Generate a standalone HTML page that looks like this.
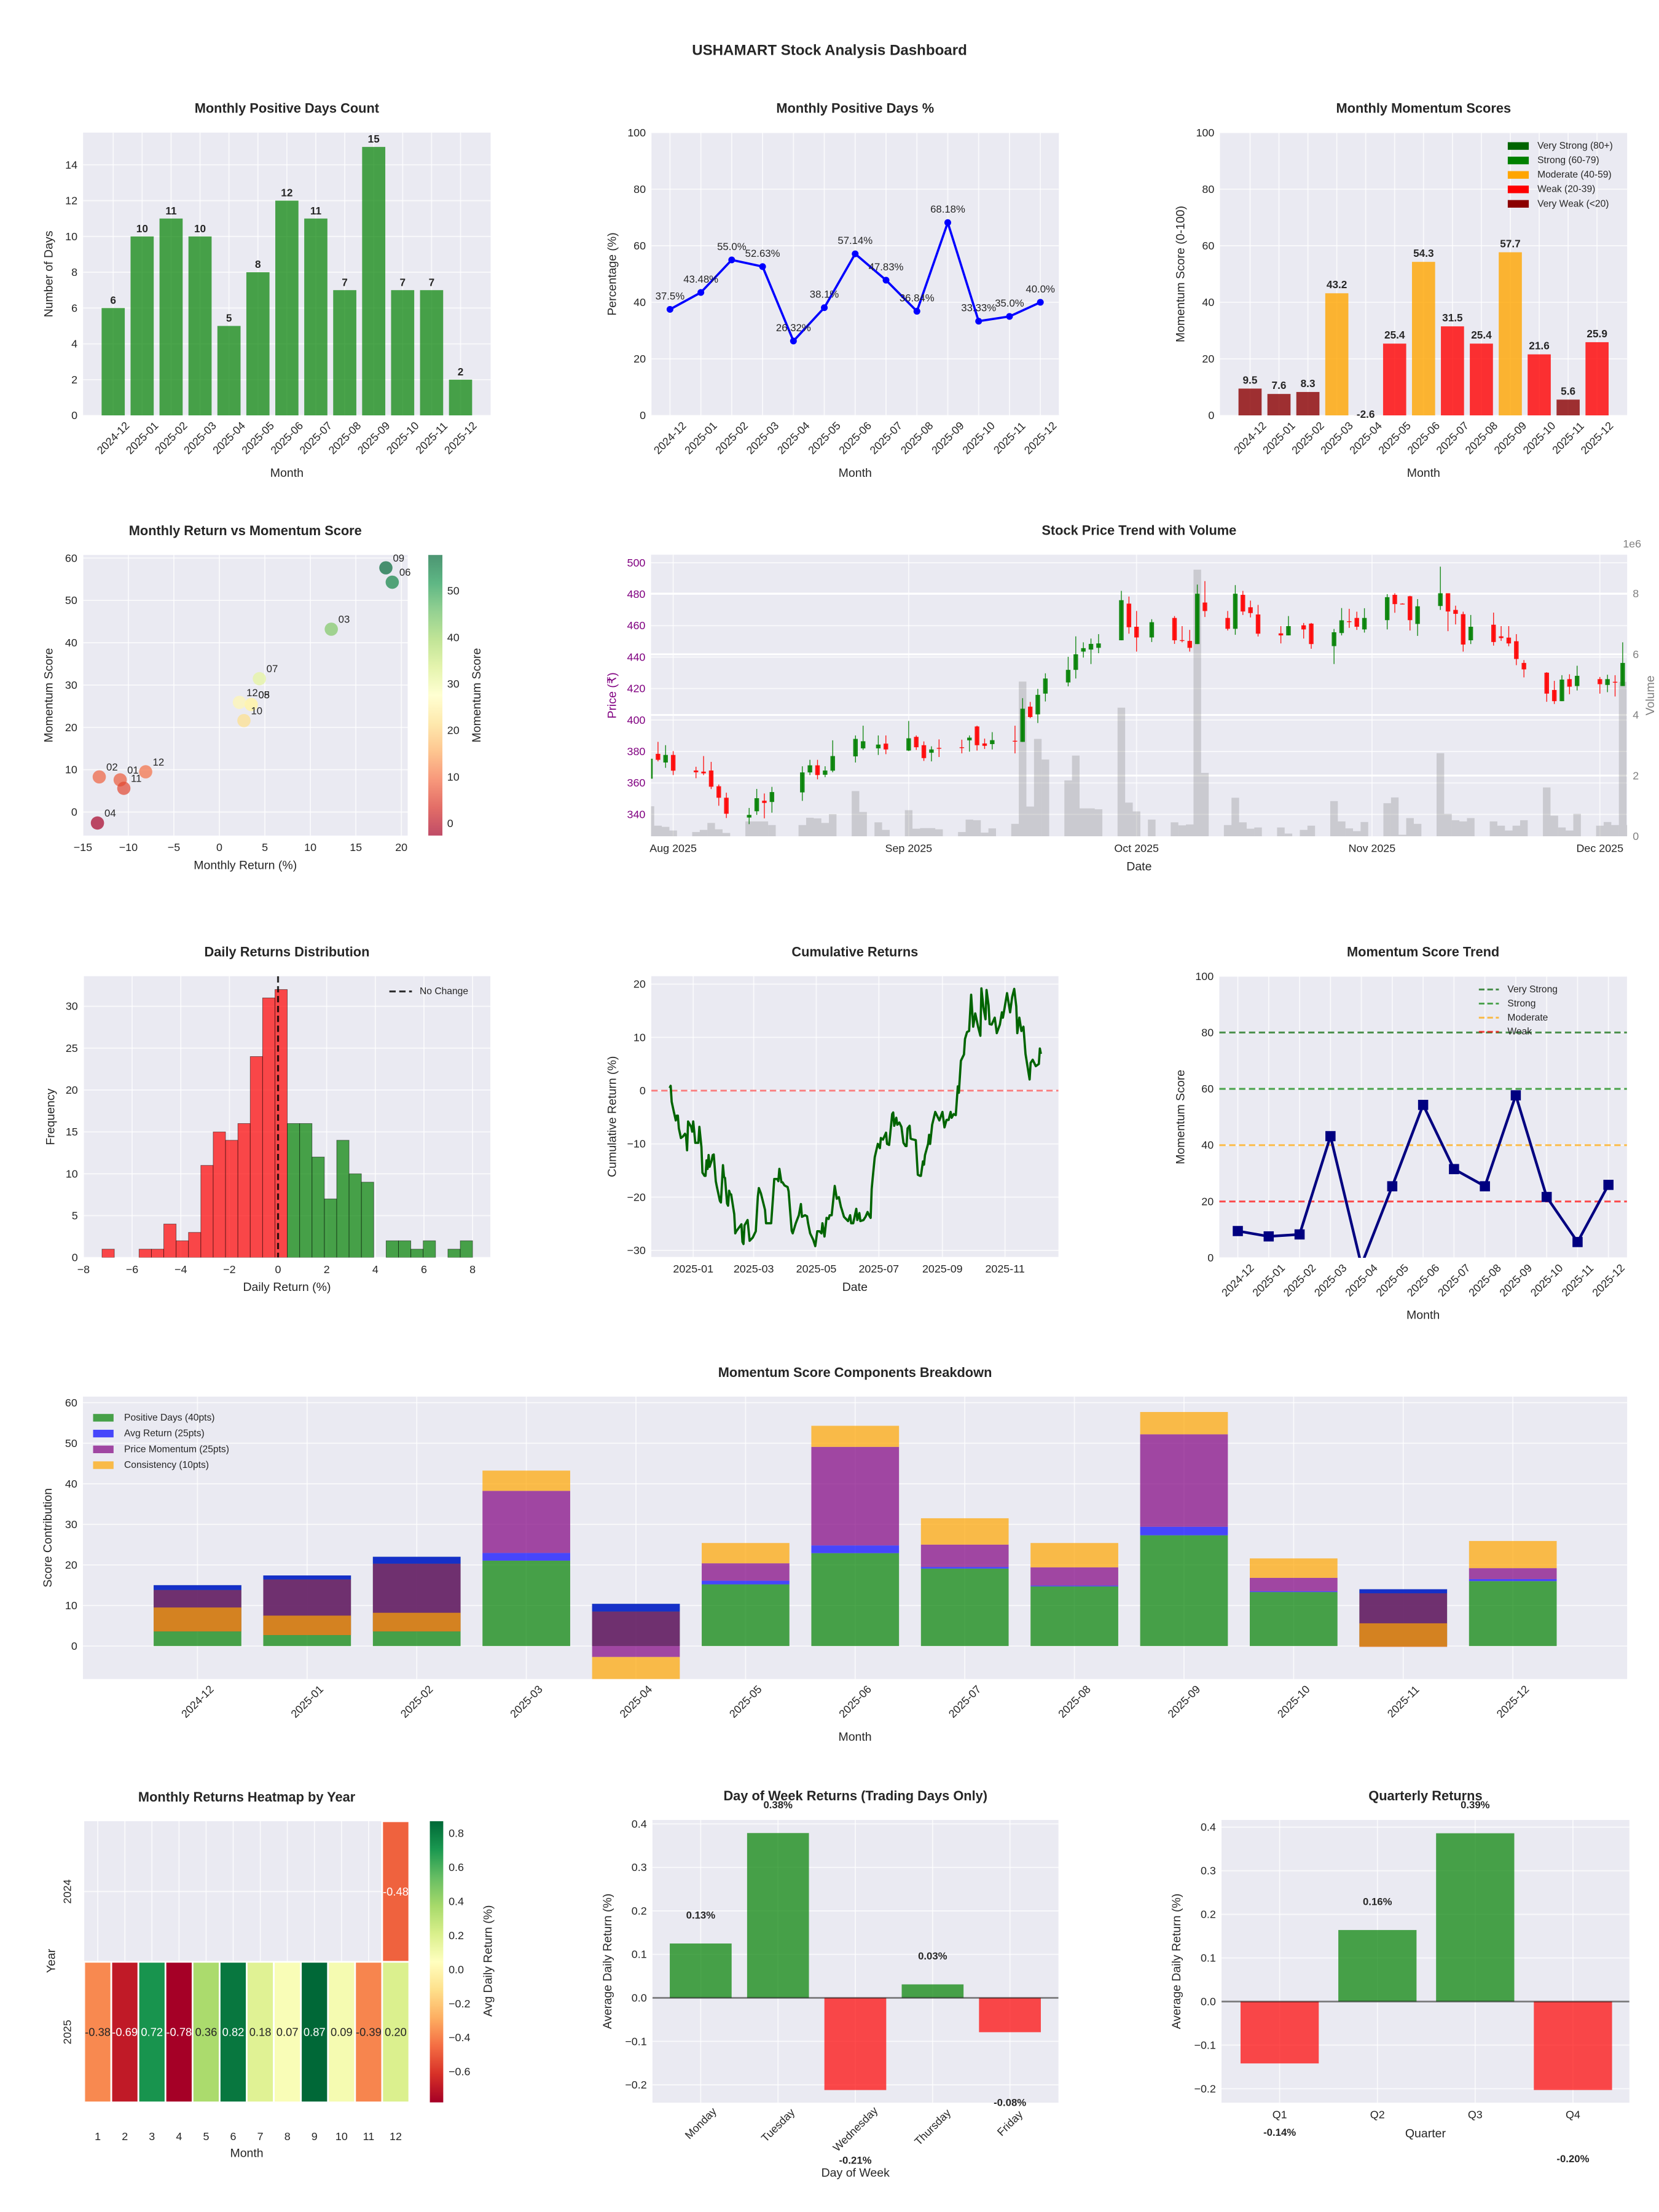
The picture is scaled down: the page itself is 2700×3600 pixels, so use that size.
<!DOCTYPE html>
<html><head><meta charset="utf-8"><title>USHAMART Stock Analysis Dashboard</title>
<style>
html,body{margin:0;padding:0;background:#fff;}
svg{display:block;}
svg text{font-family:"Liberation Sans","DejaVu Sans",sans-serif;}
</style></head>
<body>
<svg id="chart" xmlns="http://www.w3.org/2000/svg" width="2700" height="3600" viewBox="0 0 1176 1568">
<rect x="0" y="0" width="1176" height="1568" fill="#ffffff"/>
<text x="588" y="39" text-anchor="middle" font-size="10.5" font-weight="bold" fill="#262626">USHAMART Stock Analysis Dashboard</text>
</svg>
<script>
// ---------------- DATA ----------------
const months = ['2024-12','2025-01','2025-02','2025-03','2025-04','2025-05','2025-06','2025-07','2025-08','2025-09','2025-10','2025-11','2025-12'];
const positiveDays = [6,10,11,10,5,8,12,11,7,15,7,7,2];
const positivePct = [37.5,43.48,55.0,52.63,26.32,38.1,57.14,47.83,36.84,68.18,33.33,35.0,40.0];
const positivePctLabels = ['37.5%','43.48%','55.0%','52.63%','26.32%','38.1%','57.14%','47.83%','36.84%','68.18%','33.33%','35.0%','40.0%'];
const momentumScores = [9.5,7.6,8.3,43.2,-2.6,25.4,54.3,31.5,25.4,57.7,21.6,5.6,25.9];
const momentumLabels = ['9.5','7.6','8.3','43.2','-2.6','25.4','54.3','31.5','25.4','57.7','21.6','5.6','25.9'];
// scatter
const scatterReturns = [-8.1,-10.9,-13.2,12.3,-13.4,3.5,19.0,4.4,3.5,18.3,2.7,-10.5,2.2];
const scatterScores = [9.5,7.6,8.3,43.2,-2.6,25.4,54.3,31.5,25.4,57.7,21.6,5.6,25.9];
const scatterLabels = ['12','01','02','03','04','05','06','07','08','09','10','11','12'];
// candlestick (days since 2025-08-01)
const candleDay = [-3,-2,-1,0,3,4,5,6,7,10,11,12,13,17,18,19,20,21,24,25,27,28,31,32,33,34,35,38,39,40,41,42,45,46,47,48,49,52,53,54,55,56,59,60,61,63,66,67,68,69,70,73,74,75,76,77,80,81,83,84,87,88,89,90,91,94,95,96,97,98,101,102,103,104,105,108,109,110,111,112,115,116,117,118,119,122,123,124,125,126];
const candleOpen = [362.7,378.5,373.0,377.8,367.9,367.2,367.9,357.9,350.6,338.0,342.0,348.7,347.9,354.0,366.7,371.2,365.2,367.8,376.9,382.0,382.0,385.0,380.6,389.3,384.0,379.2,382.3,382.7,387.1,395.9,385.1,384.7,386.8,386.1,408.5,403.6,416.8,423.9,431.9,443.5,444.8,445.9,450.7,474.0,459.3,452.5,464.9,450.8,450.3,448.3,474.7,464.9,458.0,479.6,471.7,467.1,455.1,453.8,460.2,461.3,447.0,455.3,462.8,464.9,457.6,463.5,479.6,474.0,478.7,461.1,472.5,480.6,470.0,467.3,450.7,460.6,453.2,452.4,450.1,436.3,430.1,419.1,412.0,426.0,421.6,426.0,422.3,424.3,421.6,434.0];
const candleClose = [375.4,374.7,377.8,367.8,366.8,366.1,357.6,350.6,340.4,339.7,350.3,347.3,354.2,366.7,371.2,365.0,367.9,377.1,388.0,386.5,384.4,381.3,388.4,382.7,375.8,381.3,382.2,382.6,388.8,384.0,383.6,387.2,386.7,407.2,401.9,416.0,426.4,431.9,441.8,445.7,448.4,448.7,476.2,459.0,452.5,462.2,450.7,450.7,445.9,480.3,469.3,458.0,480.3,469.0,468.0,454.9,453.8,459.7,457.6,448.3,455.8,463.4,462.7,459.3,464.9,478.1,473.7,473.9,463.5,472.3,480.6,469.0,467.5,448.0,459.3,449.6,452.1,448.7,438.8,432.2,416.8,412.0,425.7,421.2,428.1,422.8,426.0,424.2,436.3,431.8];
const candleHigh = [376.0,386.1,384.0,380.2,370.3,377.1,373.4,359.0,353.8,344.1,356.2,353.3,357.5,370.6,374.7,374.7,370.6,387.1,390.2,396.4,390.2,390.2,399.4,390.2,386.4,383.3,387.7,387.5,390.2,396.4,388.2,392.3,396.4,413.9,411.5,419.8,429.7,440.2,453.2,449.4,451.8,454.6,482.1,478.5,469.3,464.1,466.1,459.7,457.3,486.1,488.3,469.3,485.8,482.1,475.9,473.2,459.7,466.1,461.7,461.7,457.9,471.2,470.7,468.9,471.1,480.0,480.6,474.2,479.0,476.9,497.5,480.6,472.7,468.9,466.8,468.3,459.7,459.7,454.6,438.1,430.4,424.9,428.5,429.1,434.5,427.4,428.8,428.5,449.4,439.5];
const candleLow = [362.0,373.7,369.6,365.0,363.0,365.0,356.1,345.5,337.7,333.8,339.7,337.5,341.1,348.6,365.0,362.3,363.7,366.8,373.0,381.0,377.8,378.3,380.3,381.0,374.0,373.7,376.5,378.8,379.9,380.6,381.6,381.3,378.8,386.1,401.2,398.1,411.8,421.4,426.4,439.7,435.6,442.5,450.7,454.9,443.5,449.6,448.4,449.4,443.5,448.3,465.5,456.9,454.2,466.8,465.2,453.1,448.7,453.8,451.8,445.3,435.6,453.8,458.6,457.3,455.6,457.6,468.2,473.6,456.9,453.5,470.0,456.5,460.8,443.5,448.3,447.3,450.3,446.9,434.9,427.1,411.6,410.2,412.0,416.4,418.8,416.8,417.7,415.0,421.6,429.8];
const candleVolumeM = [0.99,0.35,0.31,0.19,0.14,0.21,0.44,0.23,0.11,0.49,0.49,0.49,0.37,0.37,0.61,0.59,0.44,0.73,1.49,0.80,0.46,0.21,0.86,0.25,0.27,0.27,0.23,0.14,0.55,0.53,0.12,0.26,0.41,5.10,0.98,3.21,2.53,1.84,2.66,0.92,0.92,0.89,4.24,1.11,0.82,0.55,0.46,0.36,0.39,8.79,2.09,0.37,1.27,0.46,0.25,0.29,0.29,0.09,0.21,0.35,1.16,0.49,0.26,0.17,0.47,1.09,1.28,0.05,0.60,0.41,2.74,0.74,0.53,0.49,0.60,0.49,0.35,0.19,0.35,0.53,1.61,0.68,0.29,0.19,0.74,0.35,0.47,0.37,5.09,0.37];
const priceTicks = [340,360,380,400,420,440,460,480,500];
const volumeTicks = [0,2,4,6,8];
const dateTickLabels = ['Aug 2025','Sep 2025','Oct 2025','Nov 2025','Dec 2025'];
const dateTickDays = [0,31,61,92,122];
// histogram
const histCounts = [1,0,0,1,1,4,2,3,11,15,14,16,24,31,32,16,16,12,7,14,10,9,0,2,2,1,2,0,1,2];
const histBinStart = -7.24;
const histBinWidth = 0.508;
// cumulative returns (days since 2025-01-01, %)
const cumDays = [-23,-22,-21,-19,-17,-16,-15,-14,-12,-10,-8,-7,-6,-5,-2,-1,0,1,2,5,6,8,9,11,12,13,14,15,16,18,19,20,22,23,26,27,29,30,31,33,34,35,36,37,40,41,42,47,48,49,50,53,55,58,61,63,64,66,70,71,76,78,79,82,83,84,86,87,89,92,93,96,97,100,103,105,106,109,111,112,114,117,119,121,123,125,126,128,130,132,133,135,138,140,142,144,145,147,151,153,154,156,159,160,162,163,166,168,170,172,173,174,175,177,180,182,183,185,188,189,191,192,194,195,196,198,199,201,203,205,207,208,209,211,212,213,217,219,221,222,224,225,226,229,230,231,233,236,240,243,245,247,249,251,252,254,256,258,259,261,264,265,267,269,271,273,275,278,280,281,283,285,286,288,289,291,294,296,299,301,302,306,309,311,313,315,316,318,320,322,324,328,329,331,334,337,338,339];
const cumReturns = [0.5,0.9,-2.1,-3.9,-5.6,-4.7,-4.7,-7.1,-8.9,-8.6,-8.1,-8.6,-11.2,-5.8,-6.8,-7.7,-5.8,-7.7,-9.8,-9.8,-6.8,-10.6,-15.4,-16.0,-16.0,-13.1,-14.7,-12.1,-14.3,-13.1,-12.1,-12.0,-17.0,-18.0,-20.7,-21.0,-14.0,-16.2,-16.4,-21.2,-21.6,-18.8,-19.4,-19.5,-23.2,-26.8,-26.4,-25.1,-28.4,-28.8,-25.3,-24.3,-28.2,-27.6,-26.4,-19.9,-18.3,-19.3,-22.4,-24.9,-24.9,-19.5,-16.6,-16.6,-17.0,-14.7,-17.2,-17.2,-17.8,-18.1,-18.9,-26.3,-26.8,-24.9,-23.4,-21.3,-23.7,-23.4,-23.6,-24.9,-26.8,-28.0,-29.2,-26.4,-26.4,-26.8,-24.9,-27.4,-23.9,-24.1,-23.4,-23.4,-17.9,-20.3,-20.0,-21.8,-22.4,-23.7,-24.5,-23.4,-24.9,-24.9,-22.2,-24.3,-23.0,-24.5,-24.3,-23.7,-22.8,-23.6,-23.9,-18.5,-16.4,-12.5,-10.0,-10.8,-8.9,-9.2,-7.9,-10.0,-10.2,-8.3,-4.4,-4.1,-6.6,-5.1,-6.4,-6.0,-6.8,-9.8,-10.4,-10.4,-7.1,-6.6,-9.0,-9.1,-9.3,-15.8,-16.0,-16.0,-13.3,-13.9,-12.1,-10.0,-8.3,-10.0,-6.4,-4.0,-5.6,-4.0,-6.9,-5.5,-5.5,-4.0,-5.1,-4.4,-4.6,0.8,-0.4,5.6,6.8,9.7,11.0,11.2,18.0,12.0,14.5,11.8,10.3,19.2,15.6,13.4,18.9,16.0,12.5,12.4,13.7,10.8,12.4,14.7,13.7,18.3,14.7,17.6,19.1,15.8,10.8,13.7,11.2,12.0,6.9,2.1,5.2,5.8,4.6,5.0,7.9,6.9];
const cumTickLabels = ['2025-01','2025-03','2025-05','2025-07','2025-09','2025-11'];
const cumTickDays = [0,59,120,181,243,304];
// components
const compPositive = [15.0,17.4,22.0,21.05,10.4,15.2,22.9,19.1,14.7,27.3,13.3,14.0,16.0];
const compAvgReturn = [-1.2,-1.0,-1.7,1.9,-1.9,0.9,1.9,0.4,0.2,2.1,0.2,-1.0,0.5];
const compMomentum = [-10.2,-13.7,-16.7,15.3,-11.2,4.3,24.3,5.5,4.5,22.8,3.3,-13.2,2.7];
const compConsistency = [5.9,4.8,4.6,5.0,-6.0,5.0,5.2,6.5,6.0,5.5,4.8,5.8,6.7];
// heatmap
const heatYears = ['2024','2025'];
const heatMonths = [1,2,3,4,5,6,7,8,9,10,11,12];
const heat2024 = [null,null,null,null,null,null,null,null,null,null,null,-0.48];
const heat2025 = [-0.38,-0.69,0.72,-0.78,0.36,0.82,0.18,0.07,0.87,0.09,-0.39,0.20];
// day of week / quarter
const dowNames = ['Monday','Tuesday','Wednesday','Thursday','Friday'];
const dowReturns = [0.125,0.379,-0.212,0.031,-0.079];
const dowLabels = ['0.13%','0.38%','-0.21%','0.03%','-0.08%'];
const quarterNames = ['Q1','Q2','Q3','Q4'];
const quarterReturns = [-0.142,0.164,0.386,-0.203];
const quarterLabels = ['-0.14%','0.16%','0.39%','-0.20%'];

// ---------------- HELPERS ----------------
const NS = 'http://www.w3.org/2000/svg';
const svg = document.getElementById('chart');
function mk(tag, attrs, name, parent) {
  const el = document.createElementNS(NS, tag);
  for (const k in attrs) el.setAttribute(k, attrs[k]);
  
  
  (parent || svg).appendChild(el);
  return el;
}
function txt(x, y, s, opts, name, parent) {
  const a = Object.assign({x: x, y: y, 'font-size': 7.8, fill: '#262626'}, opts || {});
  const el = mk('text', a, name, parent);
  el.textContent = s;
  return el;
}
function lin(d0, d1, r0, r1) { return v => r0 + (v - d0) * (r1 - r0) / (d1 - d0); }
let clipN = 0;
function panel(name, x0, y0, x1, y1, title) {
  const g = mk('g', {}, name);
  mk('rect', {x: x0, y: y0, width: x1 - x0, height: y1 - y0, fill: '#eaeaf2'}, name + '-background', g);
  const cid = 'clip' + (clipN++);
  const cp = mk('clipPath', {id: cid}, name + '-clip', g);
  mk('rect', {x: x0, y: y0, width: x1 - x0, height: y1 - y0}, name + '-clip-rect', cp);
  const grid = mk('g', {}, name + '-grid', g);
  const plot = mk('g', {'clip-path': 'url(#' + cid + ')'}, name + '-plot', g);
  if (title) txt((x0 + x1) / 2, y0 - 14, title, {'text-anchor': 'middle', 'font-size': 9.5, 'font-weight': 'bold'}, name + '-title', g);
  return {g, grid, plot, x0, y0, x1, y1};
}
function hgrid(P, y, name, w) { mk('line', {x1: P.x0, x2: P.x1, y1: y, y2: y, stroke: '#ffffff', 'stroke-width': w || 0.8, 'stroke-opacity': w ? 1 : 0.7}, name, P.grid); }
function vgrid(P, x, name) { mk('line', {x1: x, x2: x, y1: P.y0, y2: P.y1, stroke: '#ffffff', 'stroke-width': 0.8, 'stroke-opacity': 0.7}, name, P.grid); }
function ytick(P, y, s, name, color) { txt(P.x0 - 4, y, s, {'text-anchor': 'end', 'dominant-baseline': 'central', fill: color || '#262626'}, name, P.g); }
function xtick(P, x, s, name) { txt(x, P.y1 + 11, s, {'text-anchor': 'middle'}, name, P.g); }
function xtickRot(P, x, s, name) {
  const L = s.length * 0.5 * 7.8;
  const cy = P.y1 + 3.5 + (L + 8) * 0.707 / 2;
  txt(x, cy, s, {'text-anchor': 'middle', 'dominant-baseline': 'central', transform: 'rotate(-45 ' + x + ' ' + cy + ')'}, name, P.g);
}
function ylabel(P, x, s, name, color) {
  const cy = (P.y0 + P.y1) / 2;
  txt(x, cy, s, {'text-anchor': 'middle', 'dominant-baseline': 'central', 'font-size': 8.5, fill: color || '#262626', transform: 'rotate(-90 ' + x + ' ' + cy + ')'}, name, P.g);
}
function xlabel(P, y, s, name) { txt((P.x0 + P.x1) / 2, y, s, {'text-anchor': 'middle', 'font-size': 8.5}, name, P.g); }
function minus(s) { return String(s).replace('-', '\u2212'); }
const RDYLGN = [[165,0,38],[215,48,39],[244,109,67],[253,174,97],[254,224,139],[255,255,191],[217,239,139],[166,217,106],[102,189,99],[26,152,80],[0,104,55]];
function cmap(t) {
  t = Math.max(0, Math.min(1, t));
  const p = t * 10, i = Math.min(9, Math.floor(p)), f = p - i;
  const a = RDYLGN[i], b = RDYLGN[i + 1];
  return [0,1,2].map(k => Math.round(a[k] + (b[k] - a[k]) * f));
}
function rgb(c) { return 'rgb(' + c[0] + ',' + c[1] + ',' + c[2] + ')'; }
function relLum(c) {
  const l = c.map(v => { v = v / 255; return v <= 0.03928 ? v / 12.92 : Math.pow((v + 0.055) / 1.055, 2.4); });
  return 0.2126 * l[0] + 0.7152 * l[1] + 0.0722 * l[2];
}

// ---------------- PANEL 1: positive days count ----------------
(function () {
  const P = panel('positive-days-count-chart', 58.9, 94, 347.8, 294.5, 'Monthly Positive Days Count');
  const sx = lin(-1.04, 13.04, P.x0, P.x1), sy = lin(0, 15.8, P.y1, P.y0);
  for (let v = 0; v <= 14; v += 2) { hgrid(P, sy(v), 'y-gridline'); ytick(P, sy(v), String(v), 'y-tick-label'); }
  months.forEach((m, i) => { vgrid(P, sx(i), 'x-gridline'); xtickRot(P, sx(i), m, 'x-tick-label'); });
  positiveDays.forEach((v, i) => {
    mk('rect', {x: sx(i - 0.4), y: sy(v), width: sx(0.8) - sx(0), height: sy(0) - sy(v), fill: 'green', 'fill-opacity': 0.7}, 'bar-' + months[i], P.plot);
    txt(sx(i), sy(v) - 3, String(v), {'text-anchor': 'middle', 'font-size': 7.5, 'font-weight': 'bold'}, 'bar-value-label', P.g);
  });
  ylabel(P, 34.6, 'Number of Days', 'y-axis-title');
  xlabel(P, 338, 'Month', 'x-axis-title');
})();

// ---------------- PANEL 2: positive days % ----------------
(function () {
  const P = panel('positive-days-pct-chart', 461.8, 94, 750.6, 294.5, 'Monthly Positive Days %');
  const sx = lin(-0.6, 12.6, P.x0, P.x1), sy = lin(0, 100, P.y1, P.y0);
  for (let v = 0; v <= 100; v += 20) { hgrid(P, sy(v), 'y-gridline'); ytick(P, sy(v), String(v), 'y-tick-label'); }
  months.forEach((m, i) => { vgrid(P, sx(i), 'x-gridline'); xtickRot(P, sx(i), m, 'x-tick-label'); });
  const pts = positivePct.map((v, i) => sx(i) + ',' + sy(v)).join(' ');
  mk('polyline', {points: pts, fill: 'none', stroke: 'blue', 'stroke-width': 1.6}, 'pct-line', P.plot);
  positivePct.forEach((v, i) => {
    mk('circle', {cx: sx(i), cy: sy(v), r: 2.4, fill: 'blue'}, 'pct-point-' + months[i], P.plot);
    txt(sx(i), sy(v) - 7, positivePctLabels[i], {'text-anchor': 'middle', 'font-size': 7.3}, 'pct-value-label', P.g);
  });
  ylabel(P, 434, 'Percentage (%)', 'y-axis-title');
  xlabel(P, 338, 'Month', 'x-axis-title');
})();

// ---------------- PANEL 3: momentum scores ----------------
(function () {
  const P = panel('momentum-scores-chart', 864.8, 94, 1153.4, 294.5, 'Monthly Momentum Scores');
  const sx = lin(-1.04, 13.04, P.x0, P.x1), sy = lin(0, 100, P.y1, P.y0);
  for (let v = 0; v <= 100; v += 20) { hgrid(P, sy(v), 'y-gridline'); ytick(P, sy(v), String(v), 'y-tick-label'); }
  months.forEach((m, i) => { vgrid(P, sx(i), 'x-gridline'); xtickRot(P, sx(i), m, 'x-tick-label'); });
  function col(s) { return s >= 80 ? 'darkgreen' : s >= 60 ? 'green' : s >= 40 ? 'orange' : s >= 20 ? 'red' : 'darkred'; }
  momentumScores.forEach((v, i) => {
    const top = Math.min(sy(v), sy(0)), h = Math.abs(sy(v) - sy(0));
    mk('rect', {x: sx(i - 0.4), y: top, width: sx(0.8) - sx(0), height: h, fill: col(v), 'fill-opacity': 0.8}, 'bar-' + months[i], P.plot);
    txt(sx(i), sy(v) - 3.5, momentumLabels[i], {'text-anchor': 'middle', 'font-size': 7.5, 'font-weight': 'bold'}, 'bar-value-label', P.g);
  });
  const leg = [['Very Strong (80+)', 'darkgreen'], ['Strong (60-79)', 'green'], ['Moderate (40-59)', 'orange'], ['Weak (20-39)', 'red'], ['Very Weak (<20)', 'darkred']];
  leg.forEach((e, k) => {
    const y = 103.5 + k * 10.25;
    mk('rect', {x: 1068.8, y: y - 2.7, width: 14.9, height: 5.4, fill: e[1]}, 'legend-swatch', P.g);
    txt(1089.8, y, e[0], {'font-size': 6.8, 'dominant-baseline': 'central'}, 'legend-entry', P.g);
  });
  ylabel(P, 837, 'Momentum Score (0-100)', 'y-axis-title');
  xlabel(P, 338, 'Month', 'x-axis-title');
})();

// ---------------- PANEL 4: scatter ----------------
(function () {
  const P = panel('return-vs-momentum-scatter', 58.8, 393.4, 289, 592.3, 'Monthly Return vs Momentum Score');
  const sx = lin(0, 20, 155.5, 284.5), sy = lin(0, 60, 575.6, 395.6);
  for (let v = 0; v <= 60; v += 10) { hgrid(P, sy(v), 'y-gridline'); ytick(P, sy(v), String(v), 'y-tick-label'); }
  for (let v = -15; v <= 20; v += 5) { vgrid(P, sx(v), 'x-gridline'); xtick(P, sx(v), minus(v), 'x-tick-label'); }
  const vmin = -2.6, vmax = 57.7;
  scatterReturns.forEach((r, i) => {
    const s = scatterScores[i];
    mk('circle', {cx: sx(r), cy: sy(s), r: 4.7, fill: rgb(cmap((s - vmin) / (vmax - vmin))), 'fill-opacity': 0.7}, 'scatter-point-' + months[i], P.plot);
    txt(sx(r) + 5, sy(s) - 4.5, scatterLabels[i], {'font-size': 7.3}, 'point-label', P.g);
  });
  ylabel(P, 34.6, 'Momentum Score', 'y-axis-title');
  xlabel(P, 616, 'Monthly Return (%)', 'x-axis-title');
  const cb = mk('g', {}, 'scatter-colorbar');
  const gid = 'cbgrad1';
  const lg = mk('linearGradient', {id: gid, x1: 0, y1: 1, x2: 0, y2: 0}, 'colorbar-gradient', cb);
  for (let k = 0; k <= 10; k++) mk('stop', {offset: k / 10, 'stop-color': rgb(RDYLGN[k])}, 'gradient-stop', lg);
  mk('rect', {x: 303.6, y: P.y0, width: 10, height: P.y1 - P.y0, fill: 'url(#' + gid + ')', 'fill-opacity': 0.7}, 'colorbar-bar', cb);
  const cy = lin(vmin, vmax, P.y1, P.y0);
  for (let v = 0; v <= 50; v += 10) txt(317, cy(v), String(v), {'dominant-baseline': 'central'}, 'colorbar-tick-label', cb);
  txt(338, (P.y0 + P.y1) / 2, 'Momentum Score', {'text-anchor': 'middle', 'dominant-baseline': 'central', 'font-size': 8.5, transform: 'rotate(-90 338 ' + (P.y0 + P.y1) / 2 + ')'}, 'colorbar-title', cb);
})();

// ---------------- PANEL 5: candlestick ----------------
(function () {
  const P = panel('price-volume-chart', 461.5, 393.2, 1153.4, 592.8, 'Stock Price Trend with Volume');
  const sx = lin(0, 122, 477.2, 1134.1);
  const sp = lin(500, 340, 398.9, 577.3);
  const sv = lin(0, 8, 592.8, 420.8);
  priceTicks.forEach(v => { hgrid(P, sp(v), 'price-gridline'); ytick(P, sp(v), String(v), 'price-tick-label', '#800080'); });
  volumeTicks.forEach(v => { if (v > 0) hgrid(P, sv(v), 'volume-gridline', 1.3); txt(P.x1 + 4, sv(v), String(v), {'dominant-baseline': 'central', fill: '#808080'}, 'volume-tick-label', P.g); });
  dateTickDays.forEach((d, k) => { vgrid(P, sx(d), 'date-gridline'); xtick(P, sx(d), dateTickLabels[k], 'date-tick-label'); });
  const dayW = sx(1) - sx(0);
  candleDay.forEach((d, i) => {
    const h = sv(candleVolumeM[i]);
    mk('rect', {x: sx(d) - dayW / 2, y: h, width: dayW, height: sv(0) - h, fill: 'gray', 'fill-opacity': 0.3}, 'volume-bar', P.plot);
  });
  candleDay.forEach((d, i) => {
    const o = candleOpen[i], c = candleClose[i];
    const color = c >= o ? 'green' : 'red';
    const x = sx(d);
    mk('line', {x1: x, x2: x, y1: sp(candleHigh[i]), y2: sp(candleLow[i]), stroke: color, 'stroke-width': 0.6, 'stroke-opacity': 0.9}, 'candle-wick', P.plot);
    const top = sp(Math.max(o, c)), bh = Math.max(0.6, Math.abs(sp(o) - sp(c)));
    mk('rect', {x: x - dayW * 0.3, y: top, width: dayW * 0.6, height: bh, fill: color, 'fill-opacity': 0.9}, 'candle-body', P.plot);
  });
  ylabel(P, 434, 'Price (\u20B9)', 'price-axis-title', '#800080');
  txt(1170, (P.y0 + P.y1) / 2, 'Volume', {'text-anchor': 'middle', 'dominant-baseline': 'central', 'font-size': 8.5, fill: '#808080', transform: 'rotate(-90 1170 ' + (P.y0 + P.y1) / 2 + ')'}, 'volume-axis-title', P.g);
  txt(P.x1 - 3, 388, '1e6', {'font-size': 7.8, fill: '#808080'}, 'volume-offset-label', P.g);
  xlabel(P, 617, 'Date', 'x-axis-title');
})();

// ---------------- PANEL 6: histogram ----------------
(function () {
  const P = panel('daily-returns-histogram', 59.2, 692, 347.6, 891.4, 'Daily Returns Distribution');
  const sx = lin(-8, 8, 59.2, 335), sy = lin(0, 30, 891.4, 713.3);
  for (let v = 0; v <= 30; v += 5) { hgrid(P, sy(v), 'y-gridline'); ytick(P, sy(v), String(v), 'y-tick-label'); }
  for (let v = -8; v <= 8; v += 2) { vgrid(P, sx(v), 'x-gridline'); xtick(P, sx(v), minus(v), 'x-tick-label'); }
  histCounts.forEach((n, i) => {
    const left = histBinStart + i * histBinWidth;
    if (n === 0) return;
    mk('rect', {x: sx(left), y: sy(n), width: sx(left + histBinWidth) - sx(left), height: sy(0) - sy(n), fill: left < 0 ? 'red' : 'green', 'fill-opacity': 0.7, stroke: '#000', 'stroke-opacity': 0.5, 'stroke-width': 0.4}, 'histogram-bin', P.plot);
  });
  mk('line', {x1: sx(0), x2: sx(0), y1: P.y0, y2: P.y1, stroke: '#000', 'stroke-opacity': 0.8, 'stroke-width': 1.4, 'stroke-dasharray': '4.5,2.5'}, 'no-change-line', P.plot);
  mk('line', {x1: 276, x2: 292, y1: 702.8, y2: 702.8, stroke: '#000', 'stroke-opacity': 0.8, 'stroke-width': 1.4, 'stroke-dasharray': '4.5,2.5'}, 'legend-line', P.g);
  txt(297.5, 702.8, 'No Change', {'font-size': 6.8, 'dominant-baseline': 'central'}, 'legend-entry', P.g);
  ylabel(P, 36, 'Frequency', 'y-axis-title');
  xlabel(P, 915, 'Daily Return (%)', 'x-axis-title');
})();

// ---------------- PANEL 7: cumulative returns ----------------
(function () {
  const P = panel('cumulative-returns-chart', 461.7, 692, 750.3, 891, 'Cumulative Returns');
  const sx = lin(0, 304, 491.4, 712.4), sy = lin(0, 20, 773.1, 697.6);
  for (let v = -30; v <= 20; v += 10) { hgrid(P, sy(v), 'y-gridline'); ytick(P, sy(v), minus(v), 'y-tick-label'); }
  cumTickDays.forEach((d, k) => { vgrid(P, sx(d), 'x-gridline'); xtick(P, sx(d), cumTickLabels[k], 'x-tick-label'); });
  mk('line', {x1: P.x0, x2: P.x1, y1: sy(0), y2: sy(0), stroke: 'red', 'stroke-opacity': 0.5, 'stroke-width': 1.2, 'stroke-dasharray': '4.5,2.5'}, 'zero-line', P.plot);
  const pts = cumDays.map((d, i) => sx(d) + ',' + sy(cumReturns[i])).join(' ');
  mk('polyline', {points: pts, fill: 'none', stroke: 'darkgreen', 'stroke-width': 1.6, 'stroke-linejoin': 'round'}, 'cumulative-return-line', P.plot);
  ylabel(P, 434, 'Cumulative Return (%)', 'y-axis-title');
  xlabel(P, 915, 'Date', 'x-axis-title');
})();

// ---------------- PANEL 8: momentum trend ----------------
(function () {
  const P = panel('momentum-trend-chart', 864.3, 692, 1153.3, 891.6, 'Momentum Score Trend');
  const sx = lin(-0.6, 12.6, P.x0, P.x1), sy = lin(0, 100, P.y1, P.y0);
  for (let v = 0; v <= 100; v += 20) { hgrid(P, sy(v), 'y-gridline'); ytick(P, sy(v), String(v), 'y-tick-label'); }
  months.forEach((m, i) => { vgrid(P, sx(i), 'x-gridline'); xtickRot(P, sx(i), m, 'x-tick-label'); });
  const th = [[80, 'darkgreen', 'Very Strong'], [60, 'green', 'Strong'], [40, 'orange', 'Moderate'], [20, 'red', 'Weak']];
  th.forEach(t => mk('line', {x1: P.x0, x2: P.x1, y1: sy(t[0]), y2: sy(t[0]), stroke: t[1], 'stroke-opacity': 0.7, 'stroke-width': 1.3, 'stroke-dasharray': '4.5,2.5'}, 'threshold-line', P.plot));
  const pts = momentumScores.map((v, i) => sx(i) + ',' + sy(v)).join(' ');
  mk('polyline', {points: pts, fill: 'none', stroke: 'navy', 'stroke-width': 1.9}, 'momentum-line', P.plot);
  momentumScores.forEach((v, i) => mk('rect', {x: sx(i) - 3.6, y: sy(v) - 3.6, width: 7.2, height: 7.2, fill: 'navy'}, 'momentum-marker-' + months[i], P.plot));
  th.forEach((t, k) => {
    const y = 701.4 + k * 10;
    mk('line', {x1: 1048.3, x2: 1062.5, y1: y, y2: y, stroke: t[1], 'stroke-opacity': 0.7, 'stroke-width': 1.3, 'stroke-dasharray': '4,2'}, 'legend-line', P.g);
    txt(1068.6, y, t[2], {'font-size': 6.8, 'dominant-baseline': 'central'}, 'legend-entry', P.g);
  });
  ylabel(P, 837, 'Momentum Score', 'y-axis-title');
  xlabel(P, 935, 'Month', 'x-axis-title');
})();

// ---------------- PANEL 9: components ----------------
(function () {
  const P = panel('momentum-components-chart', 58.8, 990, 1153.4, 1190.2, 'Momentum Score Components Breakdown');
  const sx = lin(0, 1, 140, 217.7), sy = lin(0, 40, 1166.8, 1051.8);
  for (let v = 0; v <= 60; v += 10) { hgrid(P, sy(v), 'y-gridline'); ytick(P, sy(v), String(v), 'y-tick-label'); }
  months.forEach((m, i) => { vgrid(P, sx(i), 'x-gridline'); xtickRot(P, sx(i), m, 'x-tick-label'); });
  const bw = (sx(1) - sx(0)) * 0.8;
  function seg(i, bottom, h, color, name) {
    const y = Math.min(sy(bottom), sy(bottom + h)), hh = Math.abs(sy(bottom + h) - sy(bottom));
    mk('rect', {x: sx(i) - bw / 2, y: y, width: bw, height: hh, fill: color, 'fill-opacity': 0.7}, name, P.plot);
  }
  months.forEach((m, i) => {
    const g = compPositive[i], a = compAvgReturn[i], mo = compMomentum[i], c = compConsistency[i];
    seg(i, 0, g, 'green', 'positive-days-segment');
    seg(i, g, a, 'blue', 'avg-return-segment');
    seg(i, g + a, mo, 'purple', 'price-momentum-segment');
    seg(i, g + a + mo, c, 'orange', 'consistency-segment');
  });
  const leg = [['Positive Days (40pts)', 'green'], ['Avg Return (25pts)', 'blue'], ['Price Momentum (25pts)', 'purple'], ['Consistency (10pts)', 'orange']];
  leg.forEach((e, k) => {
    const y = 1005 + k * 11.2;
    mk('rect', {x: 66, y: y - 2.7, width: 14.5, height: 5.4, fill: e[1], 'fill-opacity': 0.7}, 'legend-swatch', P.g);
    txt(88, y, e[0], {'font-size': 6.8, 'dominant-baseline': 'central'}, 'legend-entry', P.g);
  });
  ylabel(P, 34, 'Score Contribution', 'y-axis-title');
  xlabel(P, 1234, 'Month', 'x-axis-title');
})();

// ---------------- PANEL 10: heatmap ----------------
(function () {
  const P = panel('monthly-returns-heatmap', 59.7, 1291, 290.1, 1490.3, 'Monthly Returns Heatmap by Year');
  const cw = (P.x1 - P.x0) / 12, rh = (P.y1 - P.y0) / 2;
  heatMonths.forEach((m, j) => { vgrid(P, P.x0 + (j + 0.5) * cw, 'x-gridline'); txt(P.x0 + (j + 0.5) * cw, 1517, String(m), {'text-anchor': 'middle'}, 'x-tick-label', P.g); });
  hgrid(P, P.y0 + 0.5 * rh, 'y-gridline');
  hgrid(P, P.y0 + rh, 'y-gridline');
  heatYears.forEach((yr, r) => {
    const cy = P.y0 + (r + 0.5) * rh;
    txt(47.6, cy, yr, {'text-anchor': 'middle', 'dominant-baseline': 'central', transform: 'rotate(-90 47.6 ' + cy + ')'}, 'y-tick-label', P.g);
  });
  const vmin = -0.78, vmax = 0.87;
  [heat2024, heat2025].forEach((row, r) => {
    row.forEach((v, j) => {
      if (v === null) return;
      const c = cmap((v - vmin) / (vmax - vmin));
      mk('rect', {x: P.x0 + j * cw, y: P.y0 + r * rh, width: cw, height: rh, fill: rgb(c), stroke: '#ffffff', 'stroke-width': 1.2}, 'heatmap-cell-' + heatYears[r] + '-' + heatMonths[j], P.plot);
      txt(P.x0 + (j + 0.5) * cw, P.y0 + (r + 0.5) * rh, v.toFixed(2), {'text-anchor': 'middle', 'dominant-baseline': 'central', 'font-size': 8, fill: relLum(c) > 0.33 ? '#262626' : '#ffffff'}, 'heatmap-annotation', P.g);
    });
  });
  txt(36.4, 1390, 'Year', {'text-anchor': 'middle', 'dominant-baseline': 'central', 'font-size': 8.5, transform: 'rotate(-90 36.4 1390)'}, 'y-axis-title', P.g);
  xlabel(P, 1529, 'Month', 'x-axis-title');
  const cb = mk('g', {}, 'heatmap-colorbar');
  const lg = mk('linearGradient', {id: 'cbgrad2', x1: 0, y1: 1, x2: 0, y2: 0}, 'colorbar-gradient', cb);
  for (let k = 0; k <= 10; k++) mk('stop', {offset: k / 10, 'stop-color': rgb(RDYLGN[k])}, 'gradient-stop', lg);
  mk('rect', {x: 304.7, y: P.y0, width: 9.5, height: P.y1 - P.y0, fill: 'url(#cbgrad2)'}, 'colorbar-bar', cb);
  const cy = lin(vmin, vmax, P.y1, P.y0);
  for (let v = -0.6; v <= 0.81; v += 0.2) txt(318, cy(v), minus(v.toFixed(1)), {'dominant-baseline': 'central'}, 'colorbar-tick-label', cb);
  txt(346, 1390, 'Avg Daily Return (%)', {'text-anchor': 'middle', 'dominant-baseline': 'central', 'font-size': 8.5, transform: 'rotate(-90 346 1390)'}, 'colorbar-title', cb);
})();

// ---------------- PANEL 11: day of week ----------------
(function () {
  const P = panel('day-of-week-returns-chart', 462.5, 1290.1, 750.3, 1490.5, 'Day of Week Returns (Trading Days Only)');
  const sx = lin(0, 1, 496.7, 551.5), sy = lin(0, 0.4, 1416.2, 1292.9);
  for (let v = -0.2; v <= 0.41; v += 0.1) { hgrid(P, sy(v), 'y-gridline'); ytick(P, sy(v), minus(v.toFixed(1)), 'y-tick-label'); }
  dowNames.forEach((d, i) => { vgrid(P, sx(i), 'x-gridline'); xtickRot(P, sx(i), d, 'x-tick-label'); });
  const bw = (sx(1) - sx(0)) * 0.8;
  dowReturns.forEach((v, i) => {
    mk('rect', {x: sx(i) - bw / 2, y: Math.min(sy(v), sy(0)), width: bw, height: Math.abs(sy(v) - sy(0)), fill: v >= 0 ? 'green' : 'red', 'fill-opacity': 0.7}, 'bar-' + dowNames[i].toLowerCase(), P.plot);
    txt(sx(i), sy(v >= 0 ? v + 0.065 : v - 0.162), dowLabels[i], {'text-anchor': 'middle', 'dominant-baseline': 'central', 'font-size': 7.3, 'font-weight': 'bold'}, 'bar-value-label', P.g);
  });
  mk('line', {x1: P.x0, x2: P.x1, y1: sy(0), y2: sy(0), stroke: '#000', 'stroke-opacity': 0.5, 'stroke-width': 1.2}, 'zero-line', P.plot);
  ylabel(P, 430.7, 'Average Daily Return (%)', 'y-axis-title');
  xlabel(P, 1543, 'Day of Week', 'x-axis-title');
})();

// ---------------- PANEL 12: quarterly ----------------
(function () {
  const P = panel('quarterly-returns-chart', 865.9, 1290.1, 1155, 1490.5, 'Quarterly Returns');
  const sx = lin(0, 1, 907.1, 976.4), sy = lin(0, 0.4, 1418.8, 1295.2);
  for (let v = -0.2; v <= 0.41; v += 0.1) { hgrid(P, sy(v), 'y-gridline'); ytick(P, sy(v), minus(v.toFixed(1)), 'y-tick-label'); }
  quarterNames.forEach((q, i) => { vgrid(P, sx(i), 'x-gridline'); xtick(P, sx(i), q, 'x-tick-label'); });
  const bw = (sx(1) - sx(0)) * 0.8;
  quarterReturns.forEach((v, i) => {
    mk('rect', {x: sx(i) - bw / 2, y: Math.min(sy(v), sy(0)), width: bw, height: Math.abs(sy(v) - sy(0)), fill: v >= 0 ? 'green' : 'red', 'fill-opacity': 0.7}, 'bar-' + quarterNames[i].toLowerCase(), P.plot);
    txt(sx(i), sy(v >= 0 ? v + 0.065 : v - 0.158), quarterLabels[i], {'text-anchor': 'middle', 'dominant-baseline': 'central', 'font-size': 7.3, 'font-weight': 'bold'}, 'bar-value-label', P.g);
  });
  mk('line', {x1: P.x0, x2: P.x1, y1: sy(0), y2: sy(0), stroke: '#000', 'stroke-opacity': 0.5, 'stroke-width': 1.2}, 'zero-line', P.plot);
  ylabel(P, 834, 'Average Daily Return (%)', 'y-axis-title');
  xlabel(P, 1515, 'Quarter', 'x-axis-title');
})();
</script>
</body></html>
